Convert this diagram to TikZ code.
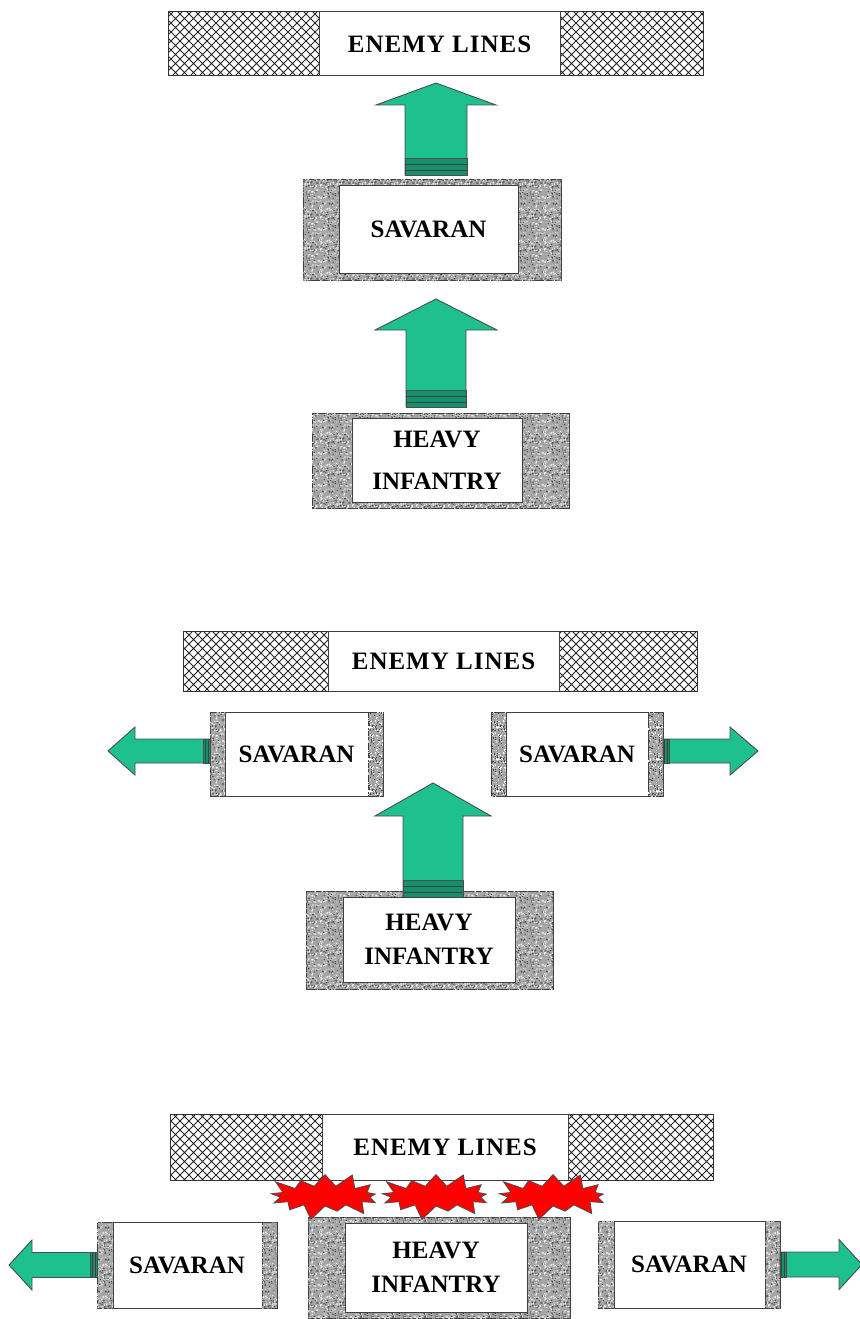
\documentclass[tikz,border=0pt]{standalone}
\usepackage{fontspec}
\setmainfont{Liberation Serif}
\usetikzlibrary{shapes.symbols,patterns.meta}
\usepackage{xcolor}

\definecolor{arrowgreen}{RGB}{30,192,142}
\definecolor{granitegray}{RGB}{165,165,165}

\tikzdeclarepattern{
  name=enemyhatch,
  type=uncolored,
  bottom left={(-0.1pt,-0.1pt)},
  top right={(9.1pt,9.1pt)},
  tile size={(9pt,9pt)},
  code={\draw[line width=0.9pt] (-1pt,-1pt) -- (10pt,10pt) (-1pt,10pt) -- (10pt,-1pt);}
}

% salt and pepper tile for the granite boxes
\tikzdeclarepattern{
  name=granitedots,
  type=colored,
  bottom left={(0pt,0pt)},
  top right={(32pt,32pt)},
  tile size={(32pt,32pt)},
  code={
    \pgfmathsetseed{11}
    \foreach \k in {1,...,90} {\fill[white] ({rnd*30.8pt},{rnd*30.8pt}) rectangle ++(1.2pt,1.2pt);}
    \foreach \k in {1,...,60} {\fill[black!20] ({rnd*30.8pt},{rnd*30.8pt}) rectangle ++(1.2pt,1.2pt);}
    \foreach \k in {1,...,70} {\fill[black!70] ({rnd*30.8pt},{rnd*30.8pt}) rectangle ++(1.2pt,1.2pt);}
  }
}

\newcommand{\unitfont}{\fontsize{25}{34}\selectfont\bfseries}
\newcommand{\enemyfont}{\fontsize{25}{30}\selectfont\bfseries\addfontfeatures{LetterSpace=4}}

% block arrow: base, angle, length, shaft half width, head half width, head length
\newcommand{\fatarrow}[6]{%
  \begin{scope}[shift={(#1)}, rotate=#2]
    \filldraw[arrowbody] (0,-#4) -- ({#3-#6},-#4) -- ({#3-#6},-#5) -- (#3,0)
      -- ({#3-#6},#5) -- ({#3-#6},#4) -- (0,#4) -- cycle;
    \filldraw[arrowband] (0,-#4) rectangle ({0.55*#4},#4);
    \draw[arrowline] ({0.15*#4},-#4) -- ({0.15*#4},#4) ({0.35*#4},-#4) -- ({0.35*#4},#4);
  \end{scope}}

\begin{document}
\begin{tikzpicture}[x=1pt,y=-1pt]
  \tikzstyle{granite} = [draw=black!75, line width=1pt, fill=granitegray, postaction={pattern=granitedots},
    inner sep=0pt, outer sep=0pt]
  \tikzstyle{unit} = [draw=black!75, line width=1pt, fill=white, inner sep=0pt, outer sep=0pt,
    align=center, font=\unitfont]
  \tikzstyle{enemy} = [draw=black!80, line width=1pt, pattern=enemyhatch, pattern color=black!85,
    inner sep=0pt, outer sep=0pt]
  \tikzstyle{arrowbody} = [fill=arrowgreen, draw=black!70, line width=0.9pt, line join=miter]
  \tikzstyle{arrowband} = [fill=arrowgreen!75!black, draw=black!70, line width=0.9pt]
  \tikzstyle{arrowline} = [draw=black!75, line width=0.8pt]
  \tikzstyle{boom} = [starburst, starburst points=13, starburst point height=16pt,
    fill=red, draw=black!70, line width=0.8pt, minimum width=122pt, minimum height=52pt, inner sep=0pt]

  \path[use as bounding box, fill=white] (0,0) rectangle (859,1319);

  % first stage
  \node[enemy, minimum width=535, minimum height=64] (enemy1) at (435.5,44) {};
  \node[unit, minimum width=241, minimum height=64, font=\enemyfont] (enemy1txt) at (439.5,44) {ENEMY LINES};
  \node[granite, minimum width=258, minimum height=101] (sav1) at (432,229.5) {};
  \node[unit, minimum width=179, minimum height=88] (sav1txt) at (428.5,229) {SAVARAN};
  \node[granite, minimum width=257, minimum height=95] (heavy1) at (440.5,460.5) {};
  \node[unit, minimum width=170, minimum height=84, font=\fontsize{25}{42}\selectfont\bfseries]
    (heavy1txt) at (437,460) {HEAVY\\INFANTRY};
  \fatarrow{[xshift=4pt,yshift=4pt]sav1.north}{90}{92}{31}{60}{22}
  \fatarrow{[xshift=-4.5pt,yshift=6pt]heavy1.north}{90}{108}{30}{61}{31}

  % second stage
  \node[enemy, minimum width=514, minimum height=60] (enemy2) at (440,661) {};
  \node[unit, minimum width=231, minimum height=60, font=\enemyfont] (enemy2txt) at (443.5,661) {ENEMY LINES};
  \node[unit, minimum width=173, minimum height=84] (sav2l) at (296.5,754) {SAVARAN};
  \node[granite, minimum width=15, minimum height=84, anchor=west] (sav2l-w) at (sav2l.west) {};
  \node[granite, minimum width=15, minimum height=84, anchor=east] (sav2l-e) at (sav2l.east) {};
  \node[unit, minimum width=172, minimum height=84] (sav2r) at (577,754) {SAVARAN};
  \node[granite, minimum width=15, minimum height=84, anchor=west] (sav2r-w) at (sav2r.west) {};
  \node[granite, minimum width=15, minimum height=84, anchor=east] (sav2r-e) at (sav2r.east) {};
  \fatarrow{[yshift=3pt]sav2l.west}{180}{102}{12}{24}{27}
  \fatarrow{[yshift=3pt]sav2r.east}{0}{95}{12}{24}{28}
  \node[granite, minimum width=247, minimum height=98] (heavy2) at (429.5,940) {};
  \fatarrow{[xshift=3.5pt,yshift=-6pt]heavy2.north}{90}{114}{30}{58}{33}
  \node[unit, minimum width=172, minimum height=85] (heavy2txt) at (429,939.5) {HEAVY\\INFANTRY};

  % third stage
  \node[enemy, minimum width=543, minimum height=66] (enemy3) at (441.5,1147) {};
  \node[unit, minimum width=246, minimum height=66, font=\enemyfont] (enemy3txt) at (445,1147) {ENEMY LINES};
  \node[unit, minimum width=180, minimum height=86] (sav3l) at (187,1265) {SAVARAN};
  \node[granite, minimum width=16, minimum height=86, anchor=west] (sav3l-w) at (sav3l.west) {};
  \node[granite, minimum width=15, minimum height=86, anchor=east] (sav3l-e) at (sav3l.east) {};
  \node[unit, minimum width=182, minimum height=87] (sav3r) at (689,1264.5) {SAVARAN};
  \node[granite, minimum width=16, minimum height=87, anchor=west] (sav3r-w) at (sav3r.west) {};
  \node[granite, minimum width=15, minimum height=87, anchor=east] (sav3r-e) at (sav3r.east) {};
  \fatarrow{sav3l.west}{180}{88}{12.5}{25}{23}
  \fatarrow{sav3r.east}{0}{82}{12.5}{25}{23}
  \node[granite, minimum width=262, minimum height=101] (heavy3) at (439,1267.5) {};
  \node[unit, minimum width=182, minimum height=89] (heavy3txt) at (436,1267.5) {HEAVY\\INFANTRY};
  \node[boom] (boom1) at (325,1196) {};
  \node[boom] (boom2) at (436,1196) {};
  \node[boom] (boom3) at (553,1196) {};
\end{tikzpicture}
\end{document}
